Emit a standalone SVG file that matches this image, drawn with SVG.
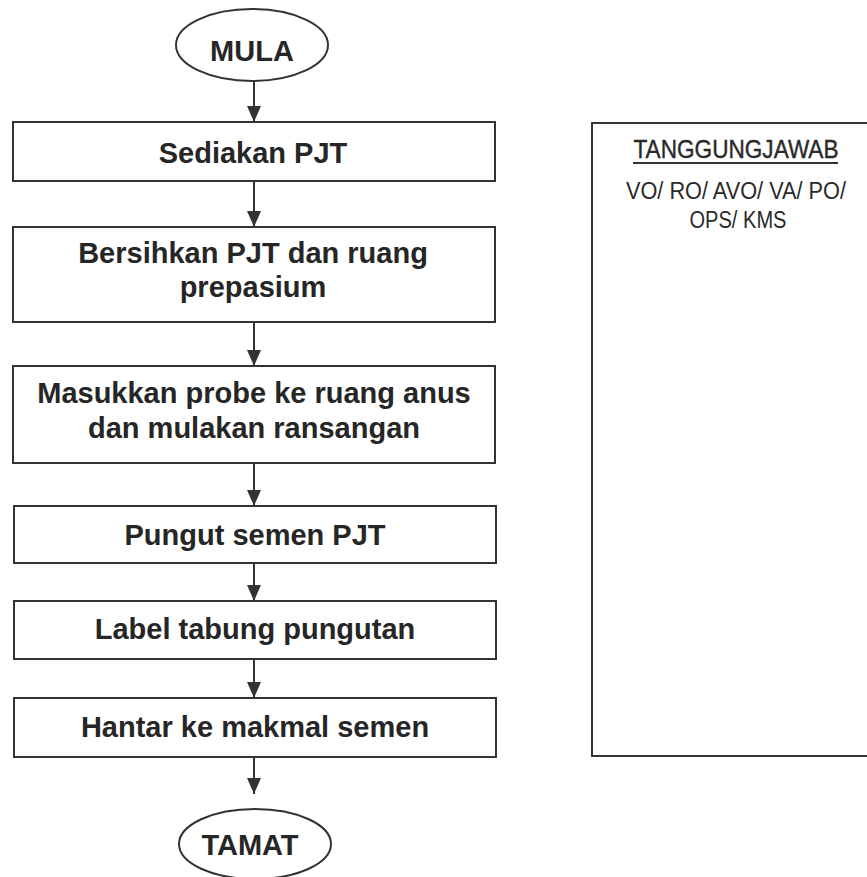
<svg xmlns="http://www.w3.org/2000/svg" width="867" height="877" viewBox="0 0 867 877">
<style>
.box{fill:#fff;stroke:#333;stroke-width:2}
.t{font-family:"Liberation Sans",Arial,sans-serif;font-weight:bold;font-size:29px;fill:#262626;text-anchor:middle}
.r{font-family:"Liberation Sans",Arial,sans-serif;font-size:23px;fill:#2a2a2a;text-anchor:middle}
.c{stroke:#333;stroke-width:2;fill:none}
</style>
<defs>
<marker id="arr" markerWidth="16" markerHeight="14" refX="16" refY="7" orient="auto" markerUnits="userSpaceOnUse" viewBox="0 0 16 14">
<path d="M0,0 L16,7 L0,14 Z" fill="#333"/>
</marker>
</defs>
<rect width="867" height="877" fill="#fff"/>
<g id="connectors">
<line class="c" x1="254" y1="81" x2="254" y2="122" marker-end="url(#arr)"/>
<line class="c" x1="254" y1="181" x2="254" y2="227" marker-end="url(#arr)"/>
<line class="c" x1="254" y1="322" x2="254" y2="366" marker-end="url(#arr)"/>
<line class="c" x1="254" y1="463" x2="254" y2="506" marker-end="url(#arr)"/>
<line class="c" x1="254" y1="563" x2="254" y2="601" marker-end="url(#arr)"/>
<line class="c" x1="254" y1="659" x2="254" y2="698" marker-end="url(#arr)"/>
<line class="c" x1="254" y1="757" x2="254" y2="794" marker-end="url(#arr)"/>
</g>
<g id="mula">
<ellipse class="box" cx="252" cy="45" rx="76" ry="36"/>
<text class="t" x="252" y="61">MULA</text>
</g>
<g id="sediakan">
<rect class="box" x="13" y="122" width="482" height="59"/>
<text class="t" x="253" y="163">Sediakan PJT</text>
</g>
<g id="bersihkan">
<rect class="box" x="13" y="227" width="482" height="95"/>
<text class="t" x="253" y="263">Bersihkan PJT dan ruang</text>
<text class="t" x="253" y="297">prepasium</text>
</g>
<g id="masukkan">
<rect class="box" x="13" y="366" width="482" height="97"/>
<text class="t" x="254" y="403">Masukkan probe ke ruang anus</text>
<text class="t" x="254" y="438">dan mulakan ransangan</text>
</g>
<g id="pungut">
<rect class="box" x="14" y="506" width="482" height="57"/>
<text class="t" x="255" y="545">Pungut semen PJT</text>
</g>
<g id="label">
<rect class="box" x="14" y="601" width="482" height="58"/>
<text class="t" x="255" y="639">Label tabung pungutan</text>
</g>
<g id="hantar">
<rect class="box" x="14" y="698" width="482" height="59"/>
<text class="t" x="255" y="737">Hantar ke makmal semen</text>
</g>
<g id="tamat">
<ellipse class="box" cx="255" cy="844" rx="76" ry="35"/>
<text class="t" x="250" y="855">TAMAT</text>
</g>
<g id="tanggungjawab">
<rect class="box" x="592" y="123" width="290" height="633"/>
<text class="r" x="736" y="158" textLength="205" lengthAdjust="spacingAndGlyphs" style="font-size:25px;stroke:#2a2a2a;stroke-width:0.4">TANGGUNGJAWAB</text>
<line x1="633" y1="163" x2="838" y2="163" stroke="#333" stroke-width="2"/>
<text class="r" x="736" y="199" textLength="220" lengthAdjust="spacingAndGlyphs">VO/ RO/ AVO/ VA/ PO/</text>
<text class="r" x="738" y="228" textLength="97" lengthAdjust="spacingAndGlyphs">OPS/ KMS</text>
</g>
</svg>
